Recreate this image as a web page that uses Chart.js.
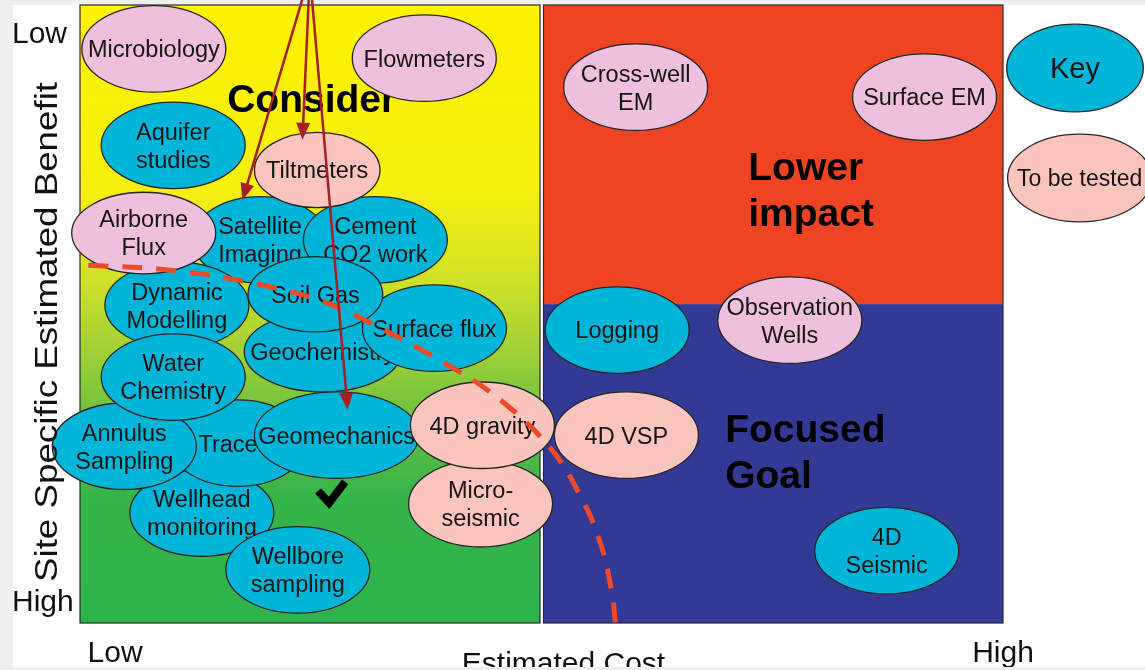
<!DOCTYPE html>
<html>
<head>
<meta charset="utf-8">
<script src="https://cdn.jsdelivr.net/npm/chart.js@4.4.1/dist/chart.umd.min.js"></script>
<style>
  html, body { margin: 0; padding: 0; background: #efefef; }
  canvas { display: block; }
</style>
</head>
<body>
<canvas id="chart" width="1145" height="670"></canvas>
<script>
// 监测技术矩阵：横轴成本，纵轴效益（上低下高）

// 技术名称（按绘制顺序，后画的压在上面）
const techLabels = [
  'Microbiology', 'Flowmeters', 'Aquifer\nstudies', 'Satellite\nImaging', 'Cement\nCO2 work',
  'Dynamic\nModelling', 'Airborne\nFlux', 'Tiltmeters', 'Geochemistry', 'Surface flux',
  'Soil Gas', 'Wellhead\nmonitoring', 'Tracers', 'Annulus\nSampling', 'Water\nChemistry',
  'Geomechanics', 'Wellbore\nsampling', 'Micro-\nseismic', '4D gravity', 'Cross-well\nEM',
  'Surface EM', 'Logging', 'Observation\nWells', '4D VSP', '4D\nSeismic'
]
const techCost = [
  8.0, 37.3, 10.1, 19.5, 32.0,
  10.5, 6.9, 25.7, 26.3, 38.4,
  25.5, 13.2, 17.1, 4.8, 10.1,
  27.8, 23.6, 43.4, 43.6, 60.2,
  91.5, 58.2, 76.9, 59.2, 87.4
]
const techBenefit = [
  7.1, 8.6, 22.7, 38.0, 38.0,
  48.6, 36.9, 26.7, 56.1, 52.3,
  46.8, 82.2, 70.9, 71.4, 60.2,
  69.6, 91.4, 80.7, 68.0, 13.3,
  14.9, 52.6, 51.0, 69.6, 88.3
]
// 分类：key = 已有技术, other = 其他, test = 待测试
const techGroup = [
  'other', 'other', 'key', 'key', 'key',
  'key', 'other', 'test', 'key', 'key',
  'key', 'key', 'key', 'key', 'key',
  'key', 'key', 'test', 'test', 'other',
  'other', 'key', 'other', 'test', 'key'
]

// 图例
const keyLabels = ['Key', 'To be tested']
const keyCost = [107.8, 108.3]
const keyBenefit = [10.2, 28.0]
const keyGroup = ['key', 'test']

// 虚线分界
const curveCost = [0.9, 9.8, 18.4, 26.0, 31.4, 39.0, 45.2, 50.9, 54.2, 56.3, 57.6, 58.0]
const curveBenefit = [42.1, 42.9, 44.9, 47.8, 51.4, 57.5, 63.5, 71.6, 79.4, 86.7, 94.8, 100]

// 箭头（共同起点在图上方）
const arrowFrom = [24.9, -5.0]
const arrowCost = [17.6, 24.1, 29.0]
const arrowBenefit = [31.6, 21.8, 65.5]

// 对勾
const checkPos = [27.1, 79.1]

// 区域标签
const zoneLabels = ['Consider', 'Lower\nimpact', 'Focused\nGoal']
const zoneCost = [25.1, 72.4, 69.9]
const zoneBenefit = [17.3, 28.3, 70.7]
const zoneAlign = ['center', 'left', 'left']

// 坐标轴
const costTicks = [3.8, 100]
const costTickLabels = ['Low', 'High']
const benefitTicks = [4.4, 96.3]
const benefitTickLabels = ['Low', 'High']
const costTitle = 'Estimated Cost'
const benefitTitle = 'Site Specific Estimated Benefit'

const costSplit = 50
const benefitSplit = 48.4

// 样式
const groupColor = { key: '#00b5d7', other: '#efc0dd', test: '#fbc4bc' }
const rxDefault = 7.8, ryDefault = 7.0
const bubbleRx = { 'Tiltmeters': 6.8, 'Geomechanics': 8.9, 'Soil Gas': 7.3, 'Geochemistry': 8.5, 'Satellite\nImaging': 7.3, 'Tracers': 7.4 }
const bubbleRy = { 'Tiltmeters': 6.1, 'Soil Gas': 6.1, 'Geochemistry': 6.5, 'Airborne\nFlux': 6.6 }
const FONT = '"Liberation Sans", Arial, Helvetica, sans-serif'

function drawBubble(ctx, cx, cy, rx, ry, fill, label, size) {
  ctx.save()
  ctx.beginPath()
  ctx.ellipse(cx, cy, rx, ry, 0, 0, Math.PI * 2)
  ctx.fillStyle = fill
  ctx.fill()
  ctx.lineWidth = 1.3
  ctx.strokeStyle = '#262626'
  ctx.stroke()
  ctx.fillStyle = '#141414'
  ctx.font = `${size}px ${FONT}`
  ctx.textAlign = 'center'
  ctx.textBaseline = 'alphabetic'
  const lines = label.split('\n')
  const lh = size * 1.19
  lines.forEach((t, i) => {
    ctx.fillText(t, cx, cy + (i - (lines.length - 1) / 2) * lh + size * 0.358)
  })
  ctx.restore()
}

const matrixPlugin = {
  id: 'matrix',
  beforeDraw(chart) {
    const { ctx, width, height } = chart
    ctx.save()
    ctx.fillStyle = '#efefef'
    ctx.fillRect(0, 0, width, height)
    ctx.fillStyle = '#ffffff'
    ctx.fillRect(13, 5, width - 13, height - 8)
    ctx.restore()
  },
  beforeDatasetsDraw(chart) {
    const { ctx, chartArea: a, scales: { x, y } } = chart
    const xs = x.getPixelForValue(costSplit)
    const ys = y.getPixelForValue(benefitSplit)
    ctx.save()
    // 左侧渐变
    const g = ctx.createLinearGradient(0, a.top, 0, a.bottom)
    g.addColorStop(0, '#fef200')
    g.addColorStop(0.3, '#f6ef10')
    g.addColorStop(0.44, '#d2e126')
    g.addColorStop(0.57, '#9ccf38')
    g.addColorStop(0.7, '#5cbc44')
    g.addColorStop(0.8, '#35b44a')
    g.addColorStop(1, '#2eb34b')
    ctx.fillStyle = g
    ctx.fillRect(a.left, a.top, xs - 1.5 - a.left, a.bottom - a.top)
    ctx.fillStyle = '#ef4424'
    ctx.fillRect(xs + 2, a.top, a.right - xs - 2, ys - a.top)
    ctx.fillStyle = '#333a96'
    ctx.fillRect(xs + 2, ys, a.right - xs - 2, a.bottom - ys)
    ctx.strokeStyle = '#2a2a2a'
    ctx.lineWidth = 1.2
    ctx.strokeRect(a.left, a.top, xs - 1.5 - a.left, a.bottom - a.top)
    ctx.strokeRect(xs + 2, a.top, a.right - xs - 2, a.bottom - a.top)

    // 区域标签
    ctx.fillStyle = '#000'
    ctx.font = `bold 39px ${FONT}`
    ctx.textBaseline = 'alphabetic'
    zoneLabels.forEach((lab, i) => {
      ctx.textAlign = zoneAlign[i]
      const px = x.getPixelForValue(zoneCost[i])
      const py = y.getPixelForValue(zoneBenefit[i])
      lab.split('\n').forEach((t, j) => ctx.fillText(t, px, py + j * 46))
    })
    ctx.restore()

    // 椭圆
    const ux = Math.abs(x.getPixelForValue(1) - x.getPixelForValue(0))
    const uy = Math.abs(y.getPixelForValue(1) - y.getPixelForValue(0))
    chart.getDatasetMeta(0).data.forEach((pt, i) => {
      const lab = techLabels[i]
      const rx = (bubbleRx[lab] ?? rxDefault) * ux
      const ry = (bubbleRy[lab] ?? ryDefault) * uy
      drawBubble(ctx, pt.x, pt.y, rx, ry, groupColor[techGroup[i]], lab, 23.5)
    })
  },
  afterDatasetsDraw(chart) {
    const { ctx, scales: { x, y } } = chart
    const ux = Math.abs(x.getPixelForValue(1) - x.getPixelForValue(0))
    const uy = Math.abs(y.getPixelForValue(1) - y.getPixelForValue(0))

    // 箭头
    ctx.save()
    ctx.strokeStyle = '#a41f27'
    ctx.fillStyle = '#a41f27'
    ctx.lineWidth = 2.5
    const x0 = x.getPixelForValue(arrowFrom[0])
    const y0 = y.getPixelForValue(arrowFrom[1])
    arrowCost.forEach((c, i) => {
      const x1 = x.getPixelForValue(c)
      const y1 = y.getPixelForValue(arrowBenefit[i])
      const ang = Math.atan2(y1 - y0, x1 - x0)
      const cs = Math.cos(ang), sn = Math.sin(ang)
      const len = 17, half = 7
      ctx.beginPath()
      ctx.moveTo(x0, y0)
      ctx.lineTo(x1 - cs * len * 0.8, y1 - sn * len * 0.8)
      ctx.stroke()
      ctx.beginPath()
      ctx.moveTo(x1, y1)
      ctx.lineTo(x1 - len * cs + half * sn, y1 - len * sn - half * cs)
      ctx.lineTo(x1 - len * cs - half * sn, y1 - len * sn + half * cs)
      ctx.closePath()
      ctx.fill()
    })

    // 对勾
    const cx = x.getPixelForValue(checkPos[0])
    const cy = y.getPixelForValue(checkPos[1])
    ctx.strokeStyle = '#000'
    ctx.lineWidth = 8
    ctx.lineJoin = 'miter'
    ctx.lineCap = 'butt'
    ctx.beginPath()
    ctx.moveTo(cx - 12, cy - 3)
    ctx.lineTo(cx - 1, cy + 9)
    ctx.lineTo(cx + 15, cy - 12)
    ctx.stroke()
    ctx.restore()

    // 图例椭圆
    keyLabels.forEach((lab, i) => {
      const px = x.getPixelForValue(keyCost[i])
      const py = y.getPixelForValue(keyBenefit[i])
      const size = i === 0 ? 29 : 23
      drawBubble(ctx, px, py, (i === 0 ? 7.4 : 7.8) * ux, 7.1 * uy, groupColor[keyGroup[i]], lab, size)
    })
  },
  afterDraw(chart) {
    const { ctx, chartArea: a, scales: { x, y }, width, height } = chart
    ctx.save()
    ctx.beginPath()
    ctx.rect(13, 5, width - 13, height - 8)
    ctx.clip()
    ctx.fillStyle = '#111'
    ctx.font = `30px ${FONT}`
    ctx.textBaseline = 'alphabetic'
    // 横轴刻度
    ctx.textAlign = 'center'
    costTicks.forEach((v, i) => ctx.fillText(costTickLabels[i], x.getPixelForValue(v), a.bottom + 39))
    ctx.fillText(costTitle, x.getPixelForValue(costSplit) + 22, a.bottom + 50)
    // 纵轴刻度
    ctx.textAlign = 'left'
    benefitTicks.forEach((v, i) => ctx.fillText(benefitTickLabels[i], 12, y.getPixelForValue(v) + 10.7))
    // 纵轴标题
    ctx.translate(57, (a.top + a.bottom) / 2 + 18)
    ctx.rotate(-Math.PI / 2)
    ctx.font = `31px ${FONT}`
    const w = ctx.measureText(benefitTitle).width
    ctx.scale(500 / w, 1)
    ctx.textAlign = 'center'
    ctx.fillText(benefitTitle, 0, 0)
    ctx.restore()
  }
}

new Chart(document.getElementById('chart'), {
  type: 'scatter',
  data: {
    datasets: [
      {
        label: 'techniques',
        data: techCost.map((c, i) => ({ x: c, y: techBenefit[i] })),
        pointRadius: 0,
        pointHoverRadius: 0
      },
      {
        label: 'boundary',
        data: curveCost.map((c, i) => ({ x: c, y: curveBenefit[i] })),
        showLine: true,
        borderColor: '#ee4a2a',
        borderWidth: 5,
        borderDash: [20, 14],
        tension: 0.4,
        pointRadius: 0,
        fill: false
      }
    ]
  },
  options: {
    responsive: false,
    animation: false,
    layout: { padding: { left: 80, top: 5, right: 142, bottom: 47 } },
    scales: {
      x: { type: 'linear', min: 0, max: 100, display: false },
      y: { type: 'linear', min: 0, max: 100, reverse: true, display: false }
    },
    plugins: {
      legend: { display: false },
      tooltip: { enabled: false }
    },
    events: []
  },
  plugins: [matrixPlugin]
})
</script>
</body>
</html>
